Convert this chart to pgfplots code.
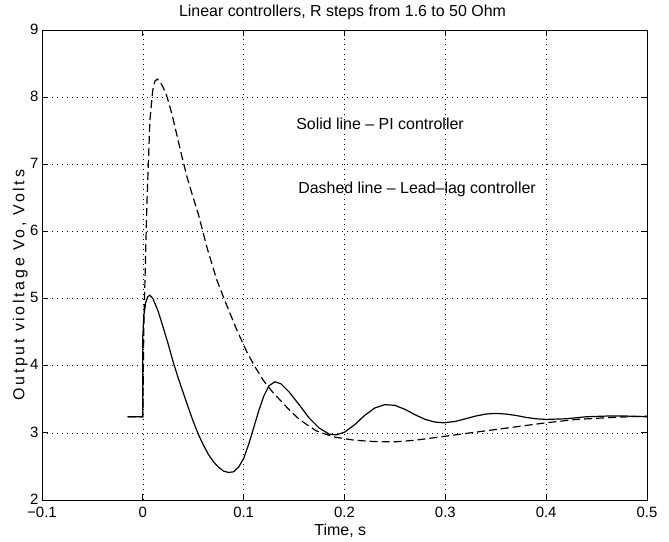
\documentclass[border=0pt]{standalone}
\usepackage{fontspec}
\setmainfont{Liberation Sans}
\newfontfamily\ylabfont[LetterSpace=17]{Liberation Sans}
\usepackage{pgfplots}
\pgfplotsset{compat=1.18}
\begin{document}
\begin{tikzpicture}
\useasboundingbox (0,0) rectangle (669bp,542bp);
\begin{axis}[
  scale only axis, width=605bp, height=470bp,
  at={(42bp,42bp)}, anchor=south west,
  xmin=-0.1, xmax=0.5, ymin=2, ymax=9,
  xtick={-0.1,0,0.1,0.2,0.3,0.4,0.5},
  xticklabels={−0.1,0,0.1,0.2,0.3,0.4,0.5},
  ytick={2,3,4,5,6,7,8,9},
  tick align=inside,
  major tick length=6bp,
  grid=major,
  major grid style={black, line width=0.6bp, dash pattern=on 1bp off 4bp},
  axis line style={black, line width=0.9bp},
  tick style={black, line width=0.9bp},
  /pgf/number format/assume math mode=true,
  ticklabel style={font=\fontsize{15}{18}\selectfont},
  yticklabel style={inner ysep=0bp, yshift=1bp},
  xticklabel style={inner ysep=0bp},
  xticklabel shift=7bp,
  xlabel={Time, s},
  xlabel style={at={(axis description cs:0.493,-0.066)}, anchor=center, inner sep=0pt, font=\fontsize{16}{19}\selectfont},
  ylabel={\ylabfont Output violtage Vo, Volts},
  ylabel style={at={(axis description cs:-0.036,0.457)}, anchor=center, font=\fontsize{16}{19}\selectfont},
]
\addplot[black, line width=1.2bp] coordinates {
(-0.015,3.24) (0,3.24) (0,4.45) (0.001,4.75) (0.003,4.95) (0.005,5.03) (0.007,5.05)
(0.010,5.00) (0.015,4.82) (0.020,4.58) (0.025,4.33) (0.030,4.06) (0.035,3.82)
(0.040,3.60) (0.045,3.38) (0.050,3.17) (0.055,2.98) (0.060,2.82) (0.065,2.68)
(0.070,2.57) (0.075,2.49) (0.080,2.43) (0.085,2.41) (0.090,2.42) (0.095,2.49)
(0.100,2.62) (0.105,2.83) (0.110,3.08) (0.115,3.33) (0.120,3.55) (0.125,3.70)
(0.131,3.76) (0.137,3.73) (0.145,3.61) (0.155,3.42) (0.165,3.22) (0.175,3.07)
(0.185,2.98) (0.192,2.97) (0.200,3.01) (0.210,3.12) (0.220,3.26) (0.230,3.37)
(0.240,3.42) (0.250,3.41) (0.260,3.35) (0.270,3.27) (0.280,3.20) (0.290,3.16)
(0.298,3.15) (0.310,3.17) (0.320,3.21) (0.330,3.25) (0.340,3.28) (0.350,3.29)
(0.360,3.28) (0.370,3.26) (0.380,3.23) (0.390,3.21) (0.400,3.20) (0.420,3.21)
(0.440,3.24) (0.460,3.25) (0.480,3.25) (0.500,3.24)
};
\addplot[black, line width=1.2bp, dash pattern=on 8bp off 4bp] coordinates {
(-0.015,3.24) (0,3.24) (0.001,4.6) (0.004,6.4) (0.007,7.65) (0.0098,8.10)
(0.012,8.24) (0.0144,8.27) (0.017,8.23) (0.020,8.15) (0.0237,8.02) (0.029,7.74)
(0.034,7.42) (0.039,7.10) (0.044,6.80) (0.050,6.50) (0.055,6.26) (0.064,5.74)
(0.0733,5.28) (0.080,5.02) (0.087,4.76) (0.093,4.54) (0.103,4.21) (0.111,3.99)
(0.1196,3.78) (0.128,3.62) (0.136,3.49) (0.146,3.33) (0.156,3.19) (0.172,3.03)
(0.189,2.94) (0.210,2.89) (0.230,2.87) (0.250,2.866) (0.270,2.89) (0.300,2.95)
(0.350,3.05) (0.400,3.15) (0.430,3.20) (0.466,3.23) (0.500,3.25)
};
\node[anchor=west, font=\fontsize{16}{19}\selectfont, inner sep=0pt] at (axis cs:0.152,7.61) {Solid line -- PI controller};
\node[anchor=west, font=\fontsize{16}{19}\selectfont, inner sep=0pt] at (axis cs:0.154,6.62) {Dashed line -- Lead--lag controller};
\end{axis}
\node[font=\fontsize{16}{19}\selectfont, anchor=center, inner sep=0pt] at (342.5bp,530bp) {Linear controllers, R steps from 1.6 to 50 Ohm};
\end{tikzpicture}
\end{document}
